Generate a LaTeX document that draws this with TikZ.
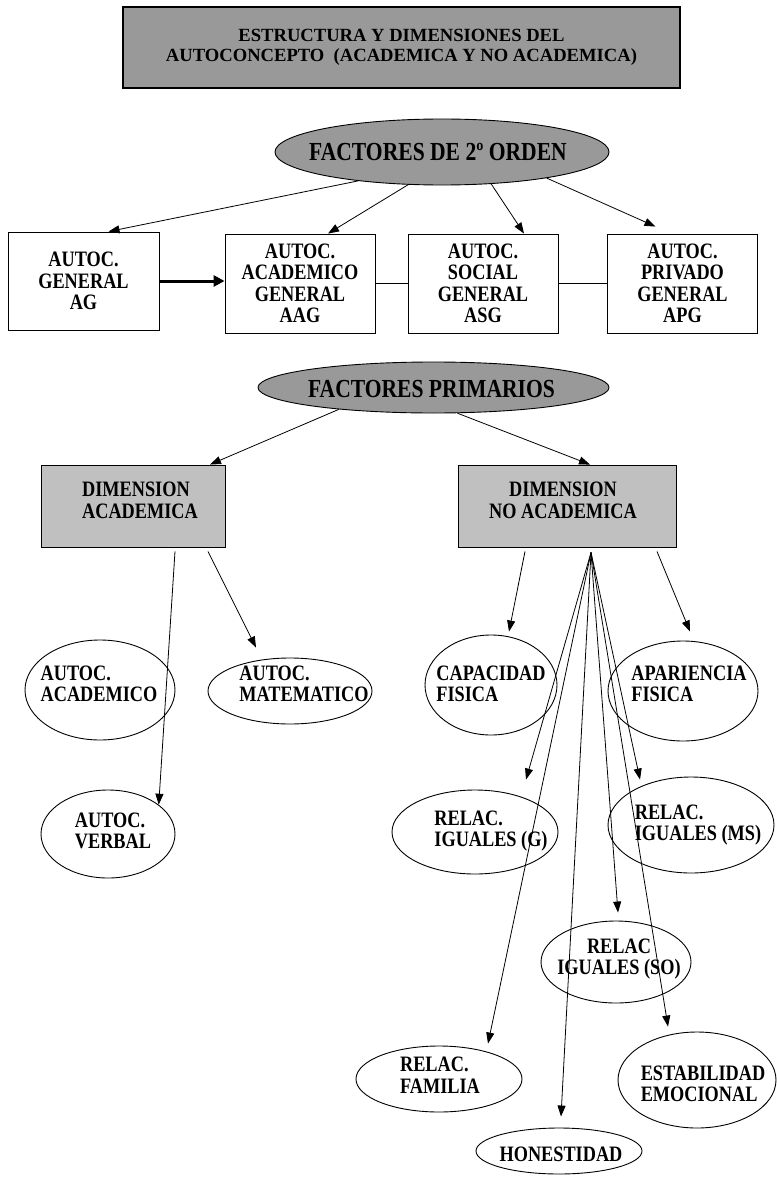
\documentclass[tikz,border=0pt]{standalone}
\usepackage{fontspec}
\setmainfont{Liberation Serif}
\newfontfamily\condfont{Liberation Serif}[FakeStretch=0.83]
\usetikzlibrary{shapes,arrows.meta}

\definecolor{darkfill}{HTML}{999999}
\definecolor{lightfill}{HTML}{C0C0C0}
\tikzset{
  txt/.style={font=\condfont\bfseries\fontsize{22}{21.5}\selectfont},
  bigtxt/.style={font=\condfont\bfseries\fontsize{26}{27}\selectfont},
  box/.style={draw, line width=0.9pt, inner sep=0pt, align=center, txt},
  oval/.style={draw, ellipse, line width=0.9pt, inner sep=0pt},
  arr/.style={-{Triangle[length=11pt,width=8pt]}, line width=0.8pt},
}

\begin{document}
\begin{tikzpicture}[x=1pt,y=-1pt]
\useasboundingbox (0,0) rectangle (776,1177);

% Title
\node[draw, line width=1.5pt, fill=darkfill, minimum width=557pt, minimum height=81pt, align=center,
  font=\bfseries\fontsize{18.6}{20}\selectfont] (title) at (401.5,47.5)
  {ESTRUCTURA Y DIMENSIONES DEL\\AUTOCONCEPTO\ \ (ACADEMICA Y NO ACADEMICA)};

% Second order factors
\node[oval, fill=darkfill, minimum width=334pt, minimum height=66pt,
  label={[bigtxt,xshift=-4pt]center:FACTORES DE 2º ORDEN}] (f2) at (442,152) {};
\node[box, minimum width=151pt, minimum height=98pt] (ag) at (83.5,281) {AUTOC.\\GENERAL\\AG};
\node[box, minimum width=150pt, minimum height=99pt] (aag) at (300,283.5) {AUTOC.\\ACADEMICO\\GENERAL\\AAG};
\node[box, minimum width=150pt, minimum height=99pt] (asg) at (483,283.5) {AUTOC.\\SOCIAL\\GENERAL\\ASG};
\node[box, minimum width=150pt, minimum height=99pt] (apg) at (682.5,283.5) {AUTOC.\\PRIVADO\\GENERAL\\APG};

\draw[arr] (f2.199) -- ([xshift=25pt]ag.north);
\draw[arr] (f2.224) -- ([xshift=28pt]aag.north);
\draw[arr] (f2.327) -- ([xshift=41pt]asg.north);
\draw[arr] (f2.346) -- ([xshift=-27pt,yshift=7pt]apg.north);
\draw[line width=3pt, -{Triangle[length=11pt,width=11pt]}] (ag.east) -- (ag.east -| aag.west);
\draw[line width=0.8pt] (aag.east) -- (asg.west);
\draw[line width=0.8pt] (asg.east) -- (apg.west);

% Primary factors
\node[oval, fill=darkfill, minimum width=351pt, minimum height=51pt,
  label={[bigtxt,xshift=-2pt,yshift=-2pt]center:FACTORES PRIMARIOS}] (fp) at (433.5,387.5) {};
\node[box, fill=lightfill, minimum width=184pt, minimum height=82pt] (dima) at (133,506) {};
\node[txt, align=left] (dimat) at (140,500.5) {DIMENSION\\ACADEMICA};
\node[box, fill=lightfill, minimum width=218pt, minimum height=82pt] (dimn) at (567,506) {};
\node[txt, align=center] (dimnt) at (563,500.5) {DIMENSION\\NO ACADEMICA};

\draw[arr] (fp.193) -- ([xshift=77pt]dima.north);
\draw[arr] (fp.313) -- ([xshift=23pt]dimn.north);

% Academic dimension
\node[oval, minimum width=150pt, minimum height=100pt,
  label={[txt,align=left,xshift=-1pt,yshift=6pt]center:AUTOC.\\ACADEMICO}] (aca) at (100,690) {};
\node[oval, minimum width=164pt, minimum height=66pt,
  label={[txt,align=left,xshift=14pt,yshift=7pt]center:AUTOC.\\MATEMATICO}] (mat) at (290,691) {};
\node[oval, minimum width=134pt, minimum height=88pt,
  label={[txt,align=left,xshift=5pt,yshift=3pt]center:AUTOC.\\VERBAL}] (ver) at (108,834) {};

\draw[arr] ([xshift=42pt,yshift=-4pt]dima.south) -- (ver.30);
\draw[arr] ([xshift=75pt,yshift=-4pt]dima.south) -- ([xshift=-34pt,yshift=10pt]mat.north);

% Non academic dimension
\node[oval, minimum width=132pt, minimum height=100pt,
  label={[txt,align=left,yshift=1pt]center:CAPACIDAD\\FISICA}] (cap) at (491,685) {};
\node[oval, minimum width=150pt, minimum height=100pt,
  label={[txt,align=left,xshift=6pt,yshift=7pt]center:APARIENCIA\\FISICA}] (apa) at (683,691) {};
\node[oval, minimum width=166pt, minimum height=84pt,
  label={[txt,align=left,xshift=16pt,yshift=1pt]center:RELAC.\\IGUALES (G)}] (igg) at (475,832) {};
\node[oval, minimum width=166pt, minimum height=96pt,
  label={[txt,align=left,xshift=7pt]center:RELAC.\\IGUALES (MS)}] (igm) at (691,825) {};
\node[oval, minimum width=150pt, minimum height=82pt,
  label={[txt,align=center,xshift=3pt,yshift=3pt]center:RELAC\\IGUALES (SO)}] (igs) at (616,962) {};
\node[oval, minimum width=166pt, minimum height=66pt,
  label={[txt,align=left,xshift=1pt,yshift=4pt]center:RELAC.\\FAMILIA}] (fam) at (439,1079) {};
\node[oval, minimum width=166pt, minimum height=46pt,
  label={[txt,xshift=2pt,yshift=-3pt]center:HONESTIDAD}] (hon) at (559,1151) {};
\node[oval, minimum width=158pt, minimum height=96pt,
  label={[txt,align=left,xshift=6pt,yshift=-4pt]center:ESTABILIDAD\\EMOCIONAL}] (est) at (697,1080) {};

\draw[arr] ([xshift=-42pt,yshift=-4pt]dimn.south) -- ([xshift=18pt,yshift=3pt]cap.north);
\draw[arr] ([xshift=90pt,yshift=-4pt]dimn.south) -- ([xshift=7pt,yshift=9pt]apa.north);
\coordinate (fan) at ([xshift=24pt,yshift=-5pt]dimn.south);
\draw[arr] (fan) -- ([xshift=51pt,yshift=10pt]igg.north);
\draw[arr] (fan) -- ([xshift=49pt,yshift=2pt]fam.north);
\draw[arr] (fan) -- ([xshift=2pt,yshift=11pt]hon.north);
\draw[arr] (fan) -- ([xshift=2pt,yshift=8pt]igs.north);
\draw[arr] (fan) -- ([xshift=-51pt,yshift=-3pt]igm.north);
\draw[arr] (fan) -- ([xshift=-29pt,yshift=5pt]est.north);
\end{tikzpicture}
\end{document}
